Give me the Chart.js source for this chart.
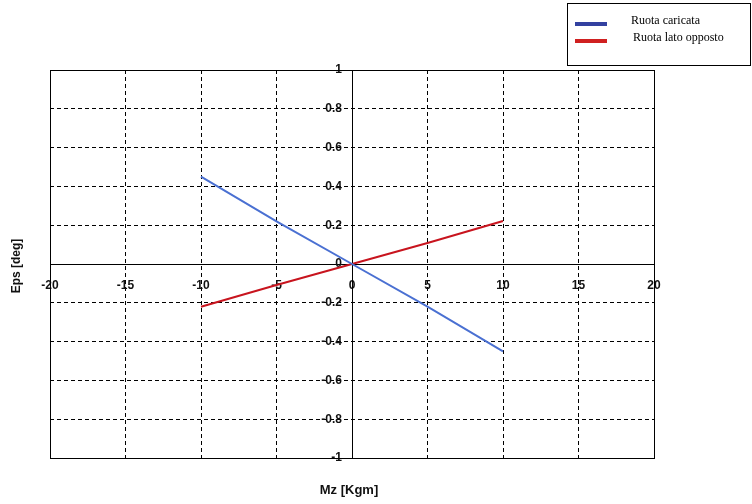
<!DOCTYPE html>
<html lang="it">
<head>
  <meta charset="UTF-8">
  <title>Eps vs Mz</title>
  <script src="https://cdn.jsdelivr.net/npm/chart.js@4.4.0/dist/chart.umd.min.js"></script>
  <style>
    html, body { margin: 0; padding: 0; background: #fff; }
    #wrap { position: relative; width: 752px; height: 504px; }
  </style>
</head>
<body>
  <div id="wrap"><canvas id="chart" width="752" height="504"></canvas></div>
  <script>
    // Mz [Kgm]
    const mz = [-10, -5, 0, 5, 10];
    // Eps [deg]
    const caricata = [0.45, 0.22, 0, -0.22, -0.45];
    const opposto = [-0.22, -0.108, 0, 0.108, 0.222];
    const seriesNames = ['Ruota caricata', 'Ruota lato opposto'];
    const legendColors = ['#3341a0', '#d02020'];

    const toPoints = ys => mz.map((x, i) => ({ x: x, y: ys[i] }));

    // solid frame around the plot + axis titles + boxed legend
    const decorations = {
      id: 'decorations',
      afterDraw(chart) {
        const { ctx, chartArea: a } = chart;
        ctx.save();
        ctx.strokeStyle = '#000';
        ctx.lineWidth = 1;
        ctx.setLineDash([]);
        ctx.strokeRect(Math.round(a.left) + 0.5, Math.round(a.top) + 0.5,
          Math.round(a.right - a.left), Math.round(a.bottom - a.top));

        ctx.fillStyle = '#111';
        ctx.textAlign = 'center';
        ctx.textBaseline = 'middle';
        ctx.font = 'bold 13px "Liberation Sans", Arial, sans-serif';
        ctx.fillText('Mz [Kgm]', 349, 490);
        ctx.font = 'bold 12px "Liberation Sans", Arial, sans-serif';
        ctx.save();
        ctx.translate(17, 266);
        ctx.rotate(-Math.PI / 2);
        ctx.fillText('Eps [deg]', 0, 0);
        ctx.restore();

        // legend box
        ctx.fillStyle = '#fff';
        ctx.fillRect(567, 3, 183, 62);
        ctx.strokeRect(567.5, 3.5, 183, 62);
        ctx.font = '12px "Liberation Serif", "Times New Roman", serif';
        ctx.textAlign = 'left';
        chart.data.datasets.forEach((ds, i) => {
          const y = 24 + i * 17;
          ctx.strokeStyle = legendColors[i];
          ctx.lineWidth = 4;
          ctx.beginPath();
          ctx.moveTo(575, y);
          ctx.lineTo(607, y);
          ctx.stroke();
          ctx.fillStyle = '#000';
          ctx.fillText(ds.label, 631 + i * 2, y - 3);
        });
        ctx.restore();
      }
    };

    const tickFont = { family: '"Liberation Sans", Arial, sans-serif', size: 12, weight: 'bold' };

    new Chart(document.getElementById('chart'), {
      type: 'line',
      data: {
        datasets: [
          {
            label: seriesNames[0],
            data: toPoints(caricata),
            borderColor: '#4a70d2',
            borderWidth: 2,
            pointRadius: 0,
            fill: false,
            tension: 0
          },
          {
            label: seriesNames[1],
            data: toPoints(opposto),
            borderColor: '#c8141e',
            borderWidth: 2,
            pointRadius: 0,
            fill: false,
            tension: 0
          }
        ]
      },
      options: {
        responsive: false,
        animation: false,
        layout: { padding: { left: 50, top: 70, right: 98, bottom: 46 } },
        plugins: {
          legend: { display: false },
          tooltip: { enabled: false }
        },
        scales: {
          x: {
            type: 'linear',
            position: { y: 0 },
            min: -20,
            max: 20,
            ticks: {
              stepSize: 5,
              padding: 14,
              color: '#111',
              font: tickFont,
              maxRotation: 0
            },
            grid: { color: '#000', lineWidth: 1, drawTicks: false },
            border: { color: '#000', width: 1, dash: [4, 3] }
          },
          y: {
            type: 'linear',
            position: { x: 0 },
            min: -1,
            max: 1,
            ticks: {
              stepSize: 0.2,
              color: '#111',
              font: tickFont,
              // labels sit just left of the centred axis
              callback: v => String(Math.round(v * 10) / 10) + '\u00a0\u00a0\u00a0'
            },
            grid: { color: '#000', lineWidth: 1, drawTicks: false },
            border: { color: '#000', width: 1, dash: [4, 3] }
          }
        }
      },
      plugins: [decorations]
    });
  </script>
</body>
</html>
